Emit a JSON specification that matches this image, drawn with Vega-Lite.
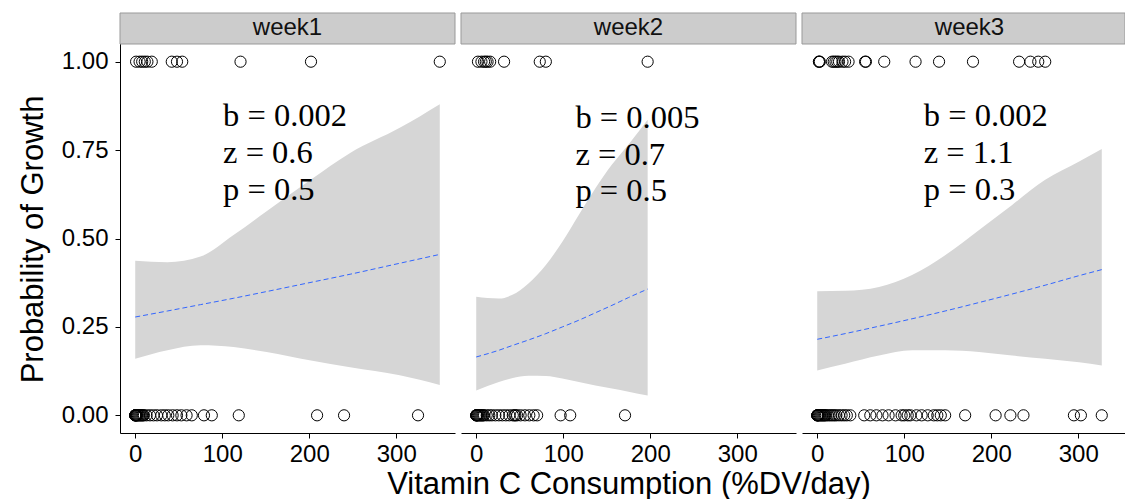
{
  "$schema": "https://vega.github.io/schema/vega-lite/v6.json",
  "background": "white",
  "padding": {"left": 17, "top": 12, "right": 0, "bottom": 0},
  "datasets": {
    "strips": [{"week": "week1"}, {"week": "week2"}, {"week": "week3"}],
    "points": [
      {"week": "week1", "vitc": 1, "growth": 1}, {"week": "week1", "vitc": 5, "growth": 1}, {"week": "week1", "vitc": 8, "growth": 1},
      {"week": "week1", "vitc": 11, "growth": 1}, {"week": "week1", "vitc": 14, "growth": 1}, {"week": "week1", "vitc": 19, "growth": 1},
      {"week": "week1", "vitc": 42, "growth": 1}, {"week": "week1", "vitc": 48, "growth": 1}, {"week": "week1", "vitc": 54, "growth": 1},
      {"week": "week1", "vitc": 121, "growth": 1}, {"week": "week1", "vitc": 202, "growth": 1}, {"week": "week1", "vitc": 350, "growth": 1},
      {"week": "week1", "vitc": 0, "growth": 0}, {"week": "week1", "vitc": 0, "growth": 0}, {"week": "week1", "vitc": 0, "growth": 0},
      {"week": "week1", "vitc": 0, "growth": 0}, {"week": "week1", "vitc": 1, "growth": 0}, {"week": "week1", "vitc": 1, "growth": 0},
      {"week": "week1", "vitc": 2, "growth": 0}, {"week": "week1", "vitc": 2, "growth": 0}, {"week": "week1", "vitc": 3, "growth": 0},
      {"week": "week1", "vitc": 4, "growth": 0}, {"week": "week1", "vitc": 5, "growth": 0}, {"week": "week1", "vitc": 6, "growth": 0},
      {"week": "week1", "vitc": 7, "growth": 0}, {"week": "week1", "vitc": 8, "growth": 0}, {"week": "week1", "vitc": 9, "growth": 0},
      {"week": "week1", "vitc": 10, "growth": 0}, {"week": "week1", "vitc": 13, "growth": 0}, {"week": "week1", "vitc": 17, "growth": 0},
      {"week": "week1", "vitc": 21, "growth": 0}, {"week": "week1", "vitc": 25, "growth": 0}, {"week": "week1", "vitc": 30, "growth": 0},
      {"week": "week1", "vitc": 34, "growth": 0}, {"week": "week1", "vitc": 38, "growth": 0}, {"week": "week1", "vitc": 43, "growth": 0},
      {"week": "week1", "vitc": 48, "growth": 0}, {"week": "week1", "vitc": 53, "growth": 0}, {"week": "week1", "vitc": 59, "growth": 0},
      {"week": "week1", "vitc": 65, "growth": 0}, {"week": "week1", "vitc": 79, "growth": 0}, {"week": "week1", "vitc": 88, "growth": 0},
      {"week": "week1", "vitc": 119, "growth": 0}, {"week": "week1", "vitc": 209, "growth": 0}, {"week": "week1", "vitc": 240, "growth": 0},
      {"week": "week1", "vitc": 325, "growth": 0},

      {"week": "week2", "vitc": 2, "growth": 1}, {"week": "week2", "vitc": 6, "growth": 1}, {"week": "week2", "vitc": 9, "growth": 1},
      {"week": "week2", "vitc": 11, "growth": 1}, {"week": "week2", "vitc": 13, "growth": 1}, {"week": "week2", "vitc": 16, "growth": 1},
      {"week": "week2", "vitc": 32, "growth": 1}, {"week": "week2", "vitc": 73, "growth": 1}, {"week": "week2", "vitc": 80, "growth": 1},
      {"week": "week2", "vitc": 197, "growth": 1},
      {"week": "week2", "vitc": 0, "growth": 0}, {"week": "week2", "vitc": 0, "growth": 0}, {"week": "week2", "vitc": 0, "growth": 0},
      {"week": "week2", "vitc": 1, "growth": 0}, {"week": "week2", "vitc": 1, "growth": 0}, {"week": "week2", "vitc": 2, "growth": 0},
      {"week": "week2", "vitc": 3, "growth": 0}, {"week": "week2", "vitc": 4, "growth": 0}, {"week": "week2", "vitc": 5, "growth": 0},
      {"week": "week2", "vitc": 6, "growth": 0}, {"week": "week2", "vitc": 7, "growth": 0}, {"week": "week2", "vitc": 8, "growth": 0},
      {"week": "week2", "vitc": 9, "growth": 0}, {"week": "week2", "vitc": 12, "growth": 0}, {"week": "week2", "vitc": 15, "growth": 0},
      {"week": "week2", "vitc": 18, "growth": 0}, {"week": "week2", "vitc": 22, "growth": 0}, {"week": "week2", "vitc": 26, "growth": 0},
      {"week": "week2", "vitc": 30, "growth": 0}, {"week": "week2", "vitc": 34, "growth": 0}, {"week": "week2", "vitc": 38, "growth": 0},
      {"week": "week2", "vitc": 42, "growth": 0}, {"week": "week2", "vitc": 44, "growth": 0}, {"week": "week2", "vitc": 45, "growth": 0},
      {"week": "week2", "vitc": 47, "growth": 0}, {"week": "week2", "vitc": 51, "growth": 0}, {"week": "week2", "vitc": 56, "growth": 0},
      {"week": "week2", "vitc": 61, "growth": 0}, {"week": "week2", "vitc": 66, "growth": 0}, {"week": "week2", "vitc": 70, "growth": 0},
      {"week": "week2", "vitc": 97, "growth": 0}, {"week": "week2", "vitc": 108, "growth": 0}, {"week": "week2", "vitc": 171, "growth": 0},

      {"week": "week3", "vitc": 2, "growth": 1}, {"week": "week3", "vitc": 2, "growth": 1}, {"week": "week3", "vitc": 3, "growth": 1},
      {"week": "week3", "vitc": 17, "growth": 1}, {"week": "week3", "vitc": 19, "growth": 1}, {"week": "week3", "vitc": 21, "growth": 1},
      {"week": "week3", "vitc": 23, "growth": 1}, {"week": "week3", "vitc": 25, "growth": 1}, {"week": "week3", "vitc": 29, "growth": 1},
      {"week": "week3", "vitc": 32, "growth": 1}, {"week": "week3", "vitc": 36, "growth": 1}, {"week": "week3", "vitc": 55, "growth": 1},
      {"week": "week3", "vitc": 56, "growth": 1}, {"week": "week3", "vitc": 77, "growth": 1}, {"week": "week3", "vitc": 113, "growth": 1},
      {"week": "week3", "vitc": 140, "growth": 1}, {"week": "week3", "vitc": 179, "growth": 1}, {"week": "week3", "vitc": 232, "growth": 1},
      {"week": "week3", "vitc": 245, "growth": 1}, {"week": "week3", "vitc": 254, "growth": 1}, {"week": "week3", "vitc": 262, "growth": 1},
      {"week": "week3", "vitc": 0, "growth": 0}, {"week": "week3", "vitc": 0, "growth": 0}, {"week": "week3", "vitc": 0, "growth": 0},
      {"week": "week3", "vitc": 1, "growth": 0}, {"week": "week3", "vitc": 1, "growth": 0}, {"week": "week3", "vitc": 2, "growth": 0},
      {"week": "week3", "vitc": 3, "growth": 0}, {"week": "week3", "vitc": 4, "growth": 0}, {"week": "week3", "vitc": 5, "growth": 0},
      {"week": "week3", "vitc": 6, "growth": 0}, {"week": "week3", "vitc": 7, "growth": 0}, {"week": "week3", "vitc": 8, "growth": 0},
      {"week": "week3", "vitc": 9, "growth": 0}, {"week": "week3", "vitc": 10, "growth": 0}, {"week": "week3", "vitc": 12, "growth": 0},
      {"week": "week3", "vitc": 14, "growth": 0}, {"week": "week3", "vitc": 16, "growth": 0}, {"week": "week3", "vitc": 18, "growth": 0},
      {"week": "week3", "vitc": 20, "growth": 0}, {"week": "week3", "vitc": 22, "growth": 0}, {"week": "week3", "vitc": 25, "growth": 0},
      {"week": "week3", "vitc": 28, "growth": 0}, {"week": "week3", "vitc": 31, "growth": 0}, {"week": "week3", "vitc": 34, "growth": 0},
      {"week": "week3", "vitc": 38, "growth": 0}, {"week": "week3", "vitc": 54, "growth": 0}, {"week": "week3", "vitc": 61, "growth": 0},
      {"week": "week3", "vitc": 68, "growth": 0}, {"week": "week3", "vitc": 75, "growth": 0}, {"week": "week3", "vitc": 82, "growth": 0},
      {"week": "week3", "vitc": 90, "growth": 0}, {"week": "week3", "vitc": 97, "growth": 0}, {"week": "week3", "vitc": 100, "growth": 0},
      {"week": "week3", "vitc": 104, "growth": 0}, {"week": "week3", "vitc": 107, "growth": 0}, {"week": "week3", "vitc": 114, "growth": 0},
      {"week": "week3", "vitc": 120, "growth": 0}, {"week": "week3", "vitc": 127, "growth": 0}, {"week": "week3", "vitc": 134, "growth": 0},
      {"week": "week3", "vitc": 138, "growth": 0}, {"week": "week3", "vitc": 142, "growth": 0}, {"week": "week3", "vitc": 147, "growth": 0},
      {"week": "week3", "vitc": 170, "growth": 0}, {"week": "week3", "vitc": 205, "growth": 0}, {"week": "week3", "vitc": 222, "growth": 0},
      {"week": "week3", "vitc": 237, "growth": 0}, {"week": "week3", "vitc": 295, "growth": 0}, {"week": "week3", "vitc": 303, "growth": 0},
      {"week": "week3", "vitc": 327, "growth": 0}
    ],
    "fits": [
      {"week": "week1", "vitc": 0, "fit": 0.278, "lo": 0.160, "hi": 0.437},
      {"week": "week1", "vitc": 37, "fit": 0.295, "lo": 0.184, "hi": 0.433},
      {"week": "week1", "vitc": 75, "fit": 0.313, "lo": 0.198, "hi": 0.449},
      {"week": "week1", "vitc": 113, "fit": 0.331, "lo": 0.193, "hi": 0.510},
      {"week": "week1", "vitc": 151, "fit": 0.350, "lo": 0.179, "hi": 0.577},
      {"week": "week1", "vitc": 202, "fit": 0.376, "lo": 0.155, "hi": 0.667},
      {"week": "week1", "vitc": 247, "fit": 0.399, "lo": 0.136, "hi": 0.742},
      {"week": "week1", "vitc": 304, "fit": 0.430, "lo": 0.113, "hi": 0.813},
      {"week": "week1", "vitc": 350, "fit": 0.455, "lo": 0.086, "hi": 0.880},

      {"week": "week2", "vitc": 0, "fit": 0.165, "lo": 0.070, "hi": 0.335},
      {"week": "week2", "vitc": 26, "fit": 0.184, "lo": 0.094, "hi": 0.330},
      {"week": "week2", "vitc": 41, "fit": 0.197, "lo": 0.105, "hi": 0.340},
      {"week": "week2", "vitc": 60, "fit": 0.213, "lo": 0.112, "hi": 0.373},
      {"week": "week2", "vitc": 80, "fit": 0.231, "lo": 0.111, "hi": 0.425},
      {"week": "week2", "vitc": 99, "fit": 0.250, "lo": 0.104, "hi": 0.491},
      {"week": "week2", "vitc": 118, "fit": 0.269, "lo": 0.094, "hi": 0.567},
      {"week": "week2", "vitc": 137, "fit": 0.290, "lo": 0.084, "hi": 0.642},
      {"week": "week2", "vitc": 156, "fit": 0.311, "lo": 0.076, "hi": 0.709},
      {"week": "week2", "vitc": 175, "fit": 0.333, "lo": 0.067, "hi": 0.766},
      {"week": "week2", "vitc": 197, "fit": 0.357, "lo": 0.056, "hi": 0.836},

      {"week": "week3", "vitc": 0, "fit": 0.215, "lo": 0.127, "hi": 0.351},
      {"week": "week3", "vitc": 32, "fit": 0.231, "lo": 0.146, "hi": 0.352},
      {"week": "week3", "vitc": 71, "fit": 0.252, "lo": 0.169, "hi": 0.363},
      {"week": "week3", "vitc": 109, "fit": 0.273, "lo": 0.184, "hi": 0.397},
      {"week": "week3", "vitc": 147, "fit": 0.295, "lo": 0.184, "hi": 0.453},
      {"week": "week3", "vitc": 186, "fit": 0.319, "lo": 0.179, "hi": 0.524},
      {"week": "week3", "vitc": 224, "fit": 0.343, "lo": 0.169, "hi": 0.595},
      {"week": "week3", "vitc": 262, "fit": 0.368, "lo": 0.160, "hi": 0.666},
      {"week": "week3", "vitc": 301, "fit": 0.395, "lo": 0.150, "hi": 0.718},
      {"week": "week3", "vitc": 327, "fit": 0.412, "lo": 0.141, "hi": 0.753}
    ],
    "notes": [
      {"week": "week1", "vitc": 101, "y": 0.8175, "label": "b = 0.002"},
      {"week": "week1", "vitc": 101, "y": 0.713, "label": "z = 0.6"},
      {"week": "week1", "vitc": 101, "y": 0.609, "label": "p = 0.5"},
      {"week": "week2", "vitc": 114, "y": 0.813, "label": "b = 0.005"},
      {"week": "week2", "vitc": 114, "y": 0.709, "label": "z = 0.7"},
      {"week": "week2", "vitc": 114, "y": 0.605, "label": "p = 0.5"},
      {"week": "week3", "vitc": 122.5, "y": 0.8175, "label": "b = 0.002"},
      {"week": "week3", "vitc": 122.5, "y": 0.713, "label": "z = 1.1"},
      {"week": "week3", "vitc": 122.5, "y": 0.609, "label": "p = 0.3"}
    ]
  },
  "hconcat": [
    {
      "width": 335, "height": 420,
      "layer": [
        {
          "data": {"name": "fits"},
          "transform": [{"filter": "datum.week === 'week1'"}],
          "mark": {"type": "area", "color": "#d6d6d6", "interpolate": "monotone"},
          "encoding": {
            "x": {"field": "vitc", "type": "quantitative", "scale": {"domain": [-17.5, 367.5], "nice": false, "zero": false}, "axis": {"values": [0, 100, 200, 300], "title": null}},
            "y": {"field": "lo", "type": "quantitative", "scale": {"domain": [-0.05, 1.1377], "nice": false, "zero": false},
                  "axis": {"values": [0, 0.25, 0.5, 0.75, 1], "format": ".2f", "title": "Probability of Growth", "titleY": 226}},
            "y2": {"field": "hi"}
          }
        },
        {
          "data": {"name": "fits"},
          "transform": [{"filter": "datum.week === 'week1'"}],
          "mark": {"type": "line", "color": "#3366ff", "strokeWidth": 1, "strokeDash": [5, 3], "interpolate": "monotone"},
          "encoding": {
            "x": {"field": "vitc", "type": "quantitative", "scale": {"domain": [-17.5, 367.5], "nice": false, "zero": false}, "axis": {"values": [0, 100, 200, 300], "title": null}},
            "y": {"field": "fit", "type": "quantitative", "scale": {"domain": [-0.05, 1.1377], "nice": false, "zero": false},
                  "axis": {"values": [0, 0.25, 0.5, 0.75, 1], "format": ".2f", "title": "Probability of Growth", "titleY": 226}}
          }
        },
        {
          "data": {"name": "points"},
          "transform": [{"filter": "datum.week === 'week1'"}],
          "mark": {"type": "point", "shape": "circle", "filled": false, "color": "#000000", "strokeWidth": 1, "size": 125, "opacity": 1},
          "encoding": {
            "x": {"field": "vitc", "type": "quantitative", "scale": {"domain": [-17.5, 367.5], "nice": false, "zero": false}, "axis": {"values": [0, 100, 200, 300], "title": null}},
            "y": {"field": "growth", "type": "quantitative", "scale": {"domain": [-0.05, 1.1377], "nice": false, "zero": false},
                  "axis": {"values": [0, 0.25, 0.5, 0.75, 1], "format": ".2f", "title": "Probability of Growth", "titleY": 226}}
          }
        },
        {
          "data": {"name": "notes"},
          "transform": [{"filter": "datum.week === 'week1'"}],
          "mark": {"type": "text", "font": "Liberation Serif", "fontSize": 32.5, "align": "left", "baseline": "alphabetic", "color": "#000000"},
          "encoding": {
            "x": {"field": "vitc", "type": "quantitative", "scale": {"domain": [-17.5, 367.5], "nice": false, "zero": false}, "axis": {"values": [0, 100, 200, 300], "title": null}},
            "y": {"field": "y", "type": "quantitative", "scale": {"domain": [-0.05, 1.1377], "nice": false, "zero": false},
                  "axis": {"values": [0, 0.25, 0.5, 0.75, 1], "format": ".2f", "title": "Probability of Growth", "titleY": 226}},
            "text": {"field": "label"}
          }
        },
        {
          "data": {"name": "strips"},
          "transform": [{"filter": "datum.week === 'week1'"}],
          "mark": {"type": "rect", "fill": "#cccccc", "stroke": "#999999", "strokeWidth": 1, "invalid": "show"},
          "encoding": {
            "x": {"datum": -17.5, "type": "quantitative", "scale": {"domain": [-17.5, 367.5], "nice": false, "zero": false}, "axis": {"values": [0, 100, 200, 300], "title": null}},
            "x2": {"datum": 367.5},
            "y": {"datum": 1.05, "type": "quantitative", "scale": {"domain": [-0.05, 1.1377], "nice": false, "zero": false},
                  "axis": {"values": [0, 0.25, 0.5, 0.75, 1], "format": ".2f", "title": "Probability of Growth", "titleY": 226}},
            "y2": {"datum": 1.1377}
          }
        },
        {
          "data": {"name": "strips"},
          "transform": [{"filter": "datum.week === 'week1'"}],
          "mark": {"type": "text", "fontSize": 24, "color": "#111111", "baseline": "middle", "invalid": "show"},
          "encoding": {
            "x": {"datum": 175, "type": "quantitative", "scale": {"domain": [-17.5, 367.5], "nice": false, "zero": false}, "axis": {"values": [0, 100, 200, 300], "title": null}},
            "y": {"datum": 1.094, "type": "quantitative", "scale": {"domain": [-0.05, 1.1377], "nice": false, "zero": false},
                  "axis": {"values": [0, 0.25, 0.5, 0.75, 1], "format": ".2f", "title": "Probability of Growth", "titleY": 226}},
            "text": {"field": "week"}
          }
        }
      ]
    },
    {
      "width": 335, "height": 420,
      "layer": [
        {
          "data": {"name": "fits"},
          "transform": [{"filter": "datum.week === 'week2'"}],
          "mark": {"type": "area", "color": "#d6d6d6", "interpolate": "monotone"},
          "encoding": {
            "x": {"field": "vitc", "type": "quantitative", "scale": {"domain": [-17.5, 367.5], "nice": false, "zero": false}, "axis": {"values": [0, 100, 200, 300], "title": "Vitamin C Consumption (%DV/day)"}},
            "y": {"field": "lo", "type": "quantitative", "scale": {"domain": [-0.05, 1.1377], "nice": false, "zero": false}, "axis": null},
            "y2": {"field": "hi"}
          }
        },
        {
          "data": {"name": "fits"},
          "transform": [{"filter": "datum.week === 'week2'"}],
          "mark": {"type": "line", "color": "#3366ff", "strokeWidth": 1, "strokeDash": [5, 3], "interpolate": "monotone"},
          "encoding": {
            "x": {"field": "vitc", "type": "quantitative", "scale": {"domain": [-17.5, 367.5], "nice": false, "zero": false}, "axis": {"values": [0, 100, 200, 300], "title": "Vitamin C Consumption (%DV/day)"}},
            "y": {"field": "fit", "type": "quantitative", "scale": {"domain": [-0.05, 1.1377], "nice": false, "zero": false}, "axis": null}
          }
        },
        {
          "data": {"name": "points"},
          "transform": [{"filter": "datum.week === 'week2'"}],
          "mark": {"type": "point", "shape": "circle", "filled": false, "color": "#000000", "strokeWidth": 1, "size": 125, "opacity": 1},
          "encoding": {
            "x": {"field": "vitc", "type": "quantitative", "scale": {"domain": [-17.5, 367.5], "nice": false, "zero": false}, "axis": {"values": [0, 100, 200, 300], "title": "Vitamin C Consumption (%DV/day)"}},
            "y": {"field": "growth", "type": "quantitative", "scale": {"domain": [-0.05, 1.1377], "nice": false, "zero": false}, "axis": null}
          }
        },
        {
          "data": {"name": "notes"},
          "transform": [{"filter": "datum.week === 'week2'"}],
          "mark": {"type": "text", "font": "Liberation Serif", "fontSize": 32.5, "align": "left", "baseline": "alphabetic", "color": "#000000"},
          "encoding": {
            "x": {"field": "vitc", "type": "quantitative", "scale": {"domain": [-17.5, 367.5], "nice": false, "zero": false}, "axis": {"values": [0, 100, 200, 300], "title": "Vitamin C Consumption (%DV/day)"}},
            "y": {"field": "y", "type": "quantitative", "scale": {"domain": [-0.05, 1.1377], "nice": false, "zero": false}, "axis": null},
            "text": {"field": "label"}
          }
        },
        {
          "data": {"name": "strips"},
          "transform": [{"filter": "datum.week === 'week2'"}],
          "mark": {"type": "rect", "fill": "#cccccc", "stroke": "#999999", "strokeWidth": 1, "invalid": "show"},
          "encoding": {
            "x": {"datum": -17.5, "type": "quantitative", "scale": {"domain": [-17.5, 367.5], "nice": false, "zero": false}, "axis": {"values": [0, 100, 200, 300], "title": "Vitamin C Consumption (%DV/day)"}},
            "x2": {"datum": 367.5},
            "y": {"datum": 1.05, "type": "quantitative", "scale": {"domain": [-0.05, 1.1377], "nice": false, "zero": false}, "axis": null},
            "y2": {"datum": 1.1377}
          }
        },
        {
          "data": {"name": "strips"},
          "transform": [{"filter": "datum.week === 'week2'"}],
          "mark": {"type": "text", "fontSize": 24, "color": "#111111", "baseline": "middle", "invalid": "show"},
          "encoding": {
            "x": {"datum": 175, "type": "quantitative", "scale": {"domain": [-17.5, 367.5], "nice": false, "zero": false}, "axis": {"values": [0, 100, 200, 300], "title": "Vitamin C Consumption (%DV/day)"}},
            "y": {"datum": 1.094, "type": "quantitative", "scale": {"domain": [-0.05, 1.1377], "nice": false, "zero": false}, "axis": null},
            "text": {"field": "week"}
          }
        }
      ]
    },
    {
      "width": 323, "height": 420,
      "layer": [
        {
          "data": {"name": "fits"},
          "transform": [{"filter": "datum.week === 'week3'"}],
          "mark": {"type": "area", "color": "#d6d6d6", "interpolate": "monotone"},
          "encoding": {
            "x": {"field": "vitc", "type": "quantitative", "scale": {"domain": [-17.5, 353.7], "nice": false, "zero": false}, "axis": {"values": [0, 100, 200, 300], "title": null}},
            "y": {"field": "lo", "type": "quantitative", "scale": {"domain": [-0.05, 1.1377], "nice": false, "zero": false}, "axis": null},
            "y2": {"field": "hi"}
          }
        },
        {
          "data": {"name": "fits"},
          "transform": [{"filter": "datum.week === 'week3'"}],
          "mark": {"type": "line", "color": "#3366ff", "strokeWidth": 1, "strokeDash": [5, 3], "interpolate": "monotone"},
          "encoding": {
            "x": {"field": "vitc", "type": "quantitative", "scale": {"domain": [-17.5, 353.7], "nice": false, "zero": false}, "axis": {"values": [0, 100, 200, 300], "title": null}},
            "y": {"field": "fit", "type": "quantitative", "scale": {"domain": [-0.05, 1.1377], "nice": false, "zero": false}, "axis": null}
          }
        },
        {
          "data": {"name": "points"},
          "transform": [{"filter": "datum.week === 'week3'"}],
          "mark": {"type": "point", "shape": "circle", "filled": false, "color": "#000000", "strokeWidth": 1, "size": 125, "opacity": 1},
          "encoding": {
            "x": {"field": "vitc", "type": "quantitative", "scale": {"domain": [-17.5, 353.7], "nice": false, "zero": false}, "axis": {"values": [0, 100, 200, 300], "title": null}},
            "y": {"field": "growth", "type": "quantitative", "scale": {"domain": [-0.05, 1.1377], "nice": false, "zero": false}, "axis": null}
          }
        },
        {
          "data": {"name": "notes"},
          "transform": [{"filter": "datum.week === 'week3'"}],
          "mark": {"type": "text", "font": "Liberation Serif", "fontSize": 32.5, "align": "left", "baseline": "alphabetic", "color": "#000000"},
          "encoding": {
            "x": {"field": "vitc", "type": "quantitative", "scale": {"domain": [-17.5, 353.7], "nice": false, "zero": false}, "axis": {"values": [0, 100, 200, 300], "title": null}},
            "y": {"field": "y", "type": "quantitative", "scale": {"domain": [-0.05, 1.1377], "nice": false, "zero": false}, "axis": null},
            "text": {"field": "label"}
          }
        },
        {
          "data": {"name": "strips"},
          "transform": [{"filter": "datum.week === 'week3'"}],
          "mark": {"type": "rect", "fill": "#cccccc", "stroke": "#999999", "strokeWidth": 1, "invalid": "show"},
          "encoding": {
            "x": {"datum": -17.5, "type": "quantitative", "scale": {"domain": [-17.5, 353.7], "nice": false, "zero": false}, "axis": {"values": [0, 100, 200, 300], "title": null}},
            "x2": {"datum": 353.7},
            "y": {"datum": 1.05, "type": "quantitative", "scale": {"domain": [-0.05, 1.1377], "nice": false, "zero": false}, "axis": null},
            "y2": {"datum": 1.1377}
          }
        },
        {
          "data": {"name": "strips"},
          "transform": [{"filter": "datum.week === 'week3'"}],
          "mark": {"type": "text", "fontSize": 24, "color": "#111111", "baseline": "middle", "invalid": "show"},
          "encoding": {
            "x": {"datum": 175, "type": "quantitative", "scale": {"domain": [-17.5, 353.7], "nice": false, "zero": false}, "axis": {"values": [0, 100, 200, 300], "title": null}},
            "y": {"datum": 1.094, "type": "quantitative", "scale": {"domain": [-0.05, 1.1377], "nice": false, "zero": false}, "axis": null},
            "text": {"field": "week"}
          }
        }
      ]
    }
  ],
  "spacing": 6,
  "bounds": "flush",
  "config": {
    "font": "Liberation Sans",
    "view": {"stroke": null},
    "axis": {
      "grid": false,
      "domainColor": "#000000", "domainWidth": 1,
      "tickColor": "#000000", "tickSize": 5, "tickWidth": 1,
      "labelColor": "#000000", "labelFont": "Liberation Sans", "labelFontSize": 24,
      "titleColor": "#000000", "titleFont": "Liberation Sans", "titleFontSize": 31, "titleFontWeight": "normal",
      "labelFlush": false
    },
    "axisX": {"labelPadding": 4, "titlePadding": 3},
    "axisY": {"labelPadding": 7, "titlePadding": 12}
  }
}
